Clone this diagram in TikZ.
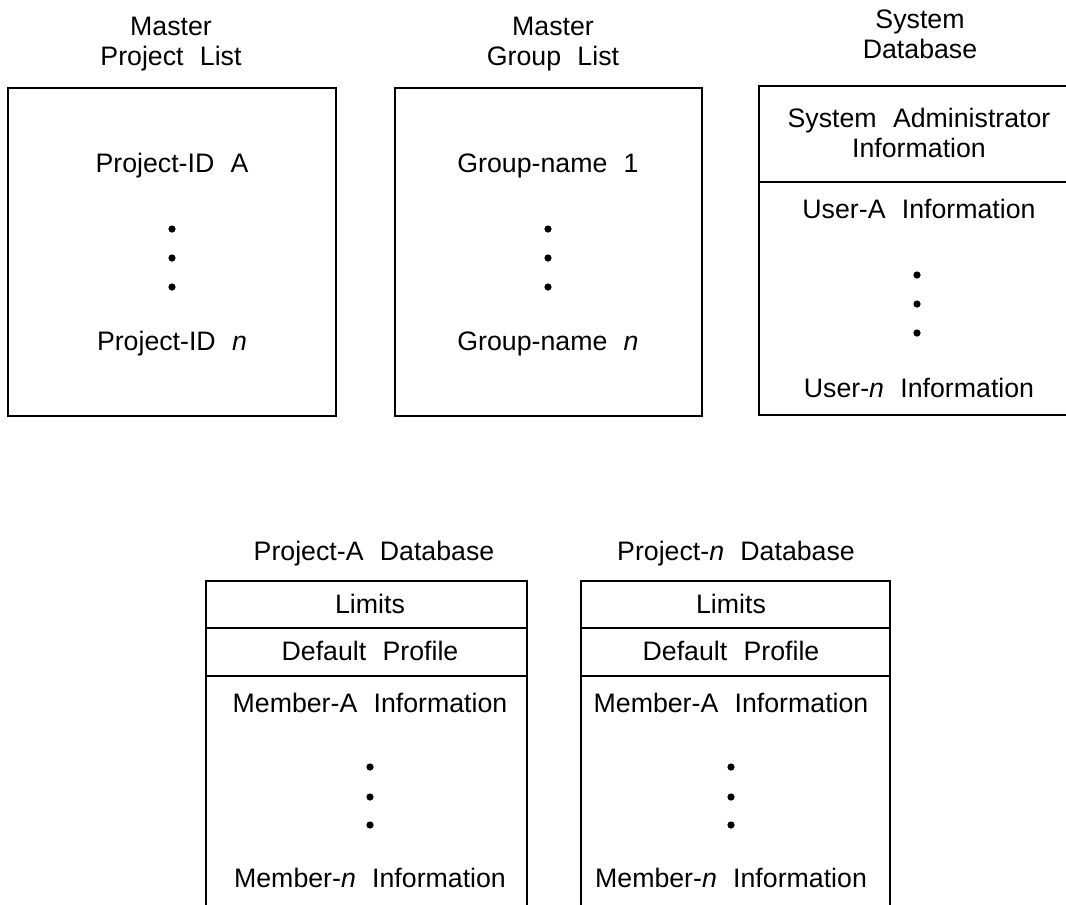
\documentclass[tikz,border=0pt]{standalone}
\usepackage{fontspec}
\setmainfont{Liberation Sans}[WordSpace=2.2]
\usetikzlibrary{positioning,calc}

\begin{document}
\begin{tikzpicture}[x=0.025cm,y=-0.025cm,
  txt/.style={font=\fontsize{19}{21}\selectfont,align=center,inner sep=0pt,anchor=base},
  frame/.style={draw,line width=2pt},
  listdot/.style={fill=black}]
  \clip (0,0) rectangle (1066,904);

  % master project list
  \node[txt] (plhead) at (171,65) {Master\\Project List};
  \draw[frame] (8,88) rectangle (336,416);
  \node[txt] (plfirst) at (172,172) {Project-ID A};
  \node[txt] (pllast) at (172,350) {Project-ID \textit{n}};
  \foreach \y in {229,258,287} \fill[listdot] (172,\y) circle[radius=0.09cm];

  % master group list
  \node[txt] (glhead) at (553,65) {Master\\Group List};
  \draw[frame] (395,88) rectangle (702,416);
  \node[txt] (glfirst) at (548,172) {Group-name 1};
  \node[txt] (gllast) at (548,350) {Group-name \textit{n}};
  \foreach \y in {229,258,287} \fill[listdot] (548,\y) circle[radius=0.09cm];

  % system database
  \node[txt] (sdhead) at (920,58) {System\\Database};
  \draw[frame] (759,86) rectangle (1100,415);
  \draw[frame] (759,182) -- (1100,182);
  \node[txt] (sdadmin) at (919,157) {System Administrator\\Information};
  \node[txt] (sdfirst) at (919,218) {User-A Information};
  \node[txt] (sdlast) at (919,397) {User-\textit{n} Information};
  \foreach \y in {275,304,333} \fill[listdot] (917,\y) circle[radius=0.09cm];

  % project databases
  \foreach \nm/\l/\r/\c/\h in {pa/206/527/370/374, pn/581/890/731/736}{
    \draw[frame] (\l,950) |- (\r,581) -- (\r,950);
    \draw[frame] (\l,628) -- (\r,628);
    \draw[frame] (\l,676) -- (\r,676);
    \node[txt] (\nm lim) at (\c,613) {Limits};
    \node[txt] (\nm prof) at (\c,660) {Default Profile};
    \node[txt] (\nm first) at (\c,712) {Member-A Information};
    \node[txt] (\nm last) at (\c,887) {Member-\textit{n} Information};
    \foreach \y in {767,797,825} \fill[listdot] (\c,\y) circle[radius=0.09cm];
  }
  \node[txt] (pahead) at (374,560) {Project-A Database};
  \node[txt] (pnhead) at (736,560) {Project-\textit{n} Database};
\end{tikzpicture}
\end{document}
